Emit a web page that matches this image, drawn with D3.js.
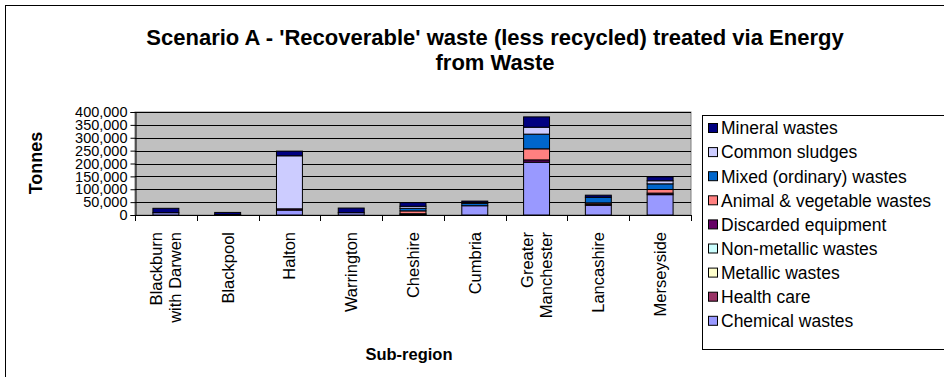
<!DOCTYPE html>
<html>
<head>
<meta charset="utf-8">
<style>
  body { margin: 0; background: #fff; }
  svg { display: block; font-family: "Liberation Sans", Arial, sans-serif; }
</style>
</head>
<body>
<svg width="944" height="377"></svg>
<script src="https://d3js.org/d3.v7.min.js"></script>
<script>

// sub-regions (x axis), label lines split where the original wraps
var regions = ["Blackburn with Darwen", "Blackpool", "Halton", "Warrington", "Cheshire",
               "Cumbria", "Greater Manchester", "Lancashire", "Merseyside"];
var regionLines = [["Blackburn", "with Darwen"], ["Blackpool"], ["Halton"], ["Warrington"], ["Cheshire"],
                   ["Cumbria"], ["Greater", "Manchester"], ["Lancashire"], ["Merseyside"]];

// waste streams, bottom of the stack first
var wasteTypes = ["Chemical wastes", "Health care", "Metallic wastes", "Non-metallic wastes",
                  "Discarded equipment", "Animal & vegetable wastes", "Mixed (ordinary) wastes",
                  "Common sludges", "Mineral wastes"];
var wasteColors = ["#9999FF", "#993366", "#FFFFCC", "#CCFFFF", "#660066",
                   "#FF8080", "#0066CC", "#CCCCFF", "#000080"];

// tonnes per region, one array per waste type
var chemical    = [9000, 2000, 19000, 9000, 2000, 36000, 205000, 38000, 79000];
var healthCare  = [0, 0, 0, 0, 0, 0, 0, 0, 0];
var metallic    = [0, 0, 0, 0, 0, 0, 0, 0, 0];
var nonMetallic = [0, 0, 0, 0, 0, 0, 0, 0, 0];
var discarded   = [0, 0, 5000, 0, 3000, 0, 9000, 4000, 6000];
var animalVeg   = [0, 0, 0, 0, 11000, 0, 43000, 5000, 14000];
var mixed       = [0, 0, 0, 0, 10000, 9000, 57000, 22000, 22000];
var sludges     = [0, 0, 206000, 0, 8000, 4000, 27000, 0, 12000];
var mineral     = [17000, 8000, 18000, 18000, 14000, 5000, 40000, 8000, 15000];

var series = [chemical, healthCare, metallic, nonMetallic, discarded, animalVeg, mixed, sludges, mineral];

var yTicks = [0, 50000, 100000, 150000, 200000, 250000, 300000, 350000, 400000];

var rows = regions.map(function(r, i) {
  var row = { region: r };
  wasteTypes.forEach(function(w, j) { row[w] = series[j][i]; });
  return row;
});

var svg = d3.select("svg");

// chart frame (runs off the right and bottom like the original)
svg.append("rect")
    .attr("x", 5.5).attr("y", 5.5)
    .attr("width", 1000).attr("height", 400)
    .attr("fill", "#fff").attr("stroke", "#000");

var plot = { left: 135, right: 691, top: 112, bottom: 215 };

var x = d3.scaleBand()
    .domain(regions)
    .range([plot.left, plot.right])
    .paddingInner(0.58)
    .paddingOuter(0.29);

var xBand = d3.scaleBand().domain(regions).range([plot.left, plot.right]);

var y = d3.scaleLinear()
    .domain([0, 400000])
    .range([plot.bottom, plot.top]);

// plot background
svg.append("rect")
    .attr("x", plot.left).attr("y", plot.top)
    .attr("width", plot.right - plot.left).attr("height", plot.bottom - plot.top)
    .attr("fill", "#C0C0C0").attr("stroke", "#808080");

// gridlines
svg.append("g").selectAll("line")
  .data(yTicks.slice(1))
  .enter().append("line")
    .attr("x1", plot.left).attr("x2", plot.right)
    .attr("y1", function(d) { return Math.round(y(d)) + 0.5; })
    .attr("y2", function(d) { return Math.round(y(d)) + 0.5; })
    .attr("stroke", "#000");

// stacked bars
var stack = d3.stack().keys(wasteTypes);
var layers = stack(rows);

svg.append("g").selectAll("g")
  .data(layers)
  .enter().append("g")
    .attr("fill", function(d, i) { return wasteColors[i]; })
  .selectAll("rect")
  .data(function(d) { return d.filter(function(p) { return p[1] - p[0] > 0; }); })
  .enter().append("rect")
    .attr("x", function(d) { return x(d.data.region); })
    .attr("width", x.bandwidth())
    .attr("y", function(d) { return y(d[1]); })
    .attr("height", function(d) { return y(d[0]) - y(d[1]); })
    .attr("stroke", "#000")
    .attr("stroke-width", 1);

// y axis
var yAxis = svg.append("g")
    .attr("transform", "translate(" + (plot.left + 0.5) + ",0)")
    .call(d3.axisLeft(y).tickValues(yTicks).tickSize(5).tickPadding(3)
      .tickFormat(d3.format(",")));
yAxis.select(".domain").attr("stroke", "#000");
yAxis.selectAll("text").attr("font-size", "14.5px").attr("fill", "#000")
    .attr("font-family", "Liberation Sans, Arial, sans-serif");

// x axis: ticks at band boundaries
var xAxisG = svg.append("g");
xAxisG.append("line")
    .attr("x1", plot.left).attr("x2", plot.right)
    .attr("y1", plot.bottom + 0.5).attr("y2", plot.bottom + 0.5)
    .attr("stroke", "#000");
xAxisG.selectAll(".tick")
  .data(regions.concat(["end"]))
  .enter().append("line")
    .attr("x1", function(d, i) { return Math.round(plot.left + i * xBand.bandwidth()) + 0.5; })
    .attr("x2", function(d, i) { return Math.round(plot.left + i * xBand.bandwidth()) + 0.5; })
    .attr("y1", plot.bottom).attr("y2", plot.bottom + 6)
    .attr("stroke", "#000");

xAxisG.selectAll("text.lbl")
  .data(regions)
  .enter().append("text")
    .attr("class", "lbl")
    .attr("transform", function(d) {
      return "translate(" + (xBand(d) + xBand.bandwidth() / 2) + "," + 232 + ") rotate(-90)";
    })
    .attr("text-anchor", "end")
    .attr("font-size", "16.5px")
    .each(function(d, i) {
      var lines = regionLines[i];
      var t = d3.select(this);
      var lh = 19;
      lines.forEach(function(l, k) {
        t.append("tspan")
          .attr("x", 0)
          .attr("y", (k - (lines.length - 1) / 2) * lh + 6)
          .text(l);
      });
    });

// titles
var title = svg.append("text")
    .attr("text-anchor", "middle")
    .attr("font-weight", "bold")
    .attr("font-size", "22px");
title.append("tspan").attr("x", 495).attr("y", 45)
    .text("Scenario A - 'Recoverable' waste (less recycled) treated via Energy");
title.append("tspan").attr("x", 495).attr("y", 70).text("from Waste");

svg.append("text")
    .attr("transform", "translate(42,163) rotate(-90)")
    .attr("text-anchor", "middle")
    .attr("font-weight", "bold")
    .attr("font-size", "18px")
    .text("Tonnes");

svg.append("text")
    .attr("x", 409).attr("y", 360)
    .attr("text-anchor", "middle")
    .attr("font-weight", "bold")
    .attr("font-size", "16.5px")
    .text("Sub-region");

// legend, top entry is the top of the stack
var legend = svg.append("g");
legend.append("rect")
    .attr("x", 702.5).attr("y", 115.5)
    .attr("width", 300).attr("height", 234)
    .attr("fill", "#fff").attr("stroke", "#000");

var legendOrder = wasteTypes.slice().reverse();
var legendColors = wasteColors.slice().reverse();
var item = legend.selectAll("g.item")
  .data(legendOrder)
  .enter().append("g")
    .attr("class", "item")
    .attr("transform", function(d, i) { return "translate(0," + (128 + i * 24.1) + ")"; });

item.append("rect")
    .attr("x", 708.5).attr("y", -4.5)
    .attr("width", 9).attr("height", 9)
    .attr("fill", function(d, i) { return legendColors[i]; })
    .attr("stroke", "#000");

item.append("text")
    .attr("x", 721).attr("dy", "0.36em")
    .attr("font-size", "17.5px")
    .text(function(d) { return d; });

</script>
</body>
</html>
